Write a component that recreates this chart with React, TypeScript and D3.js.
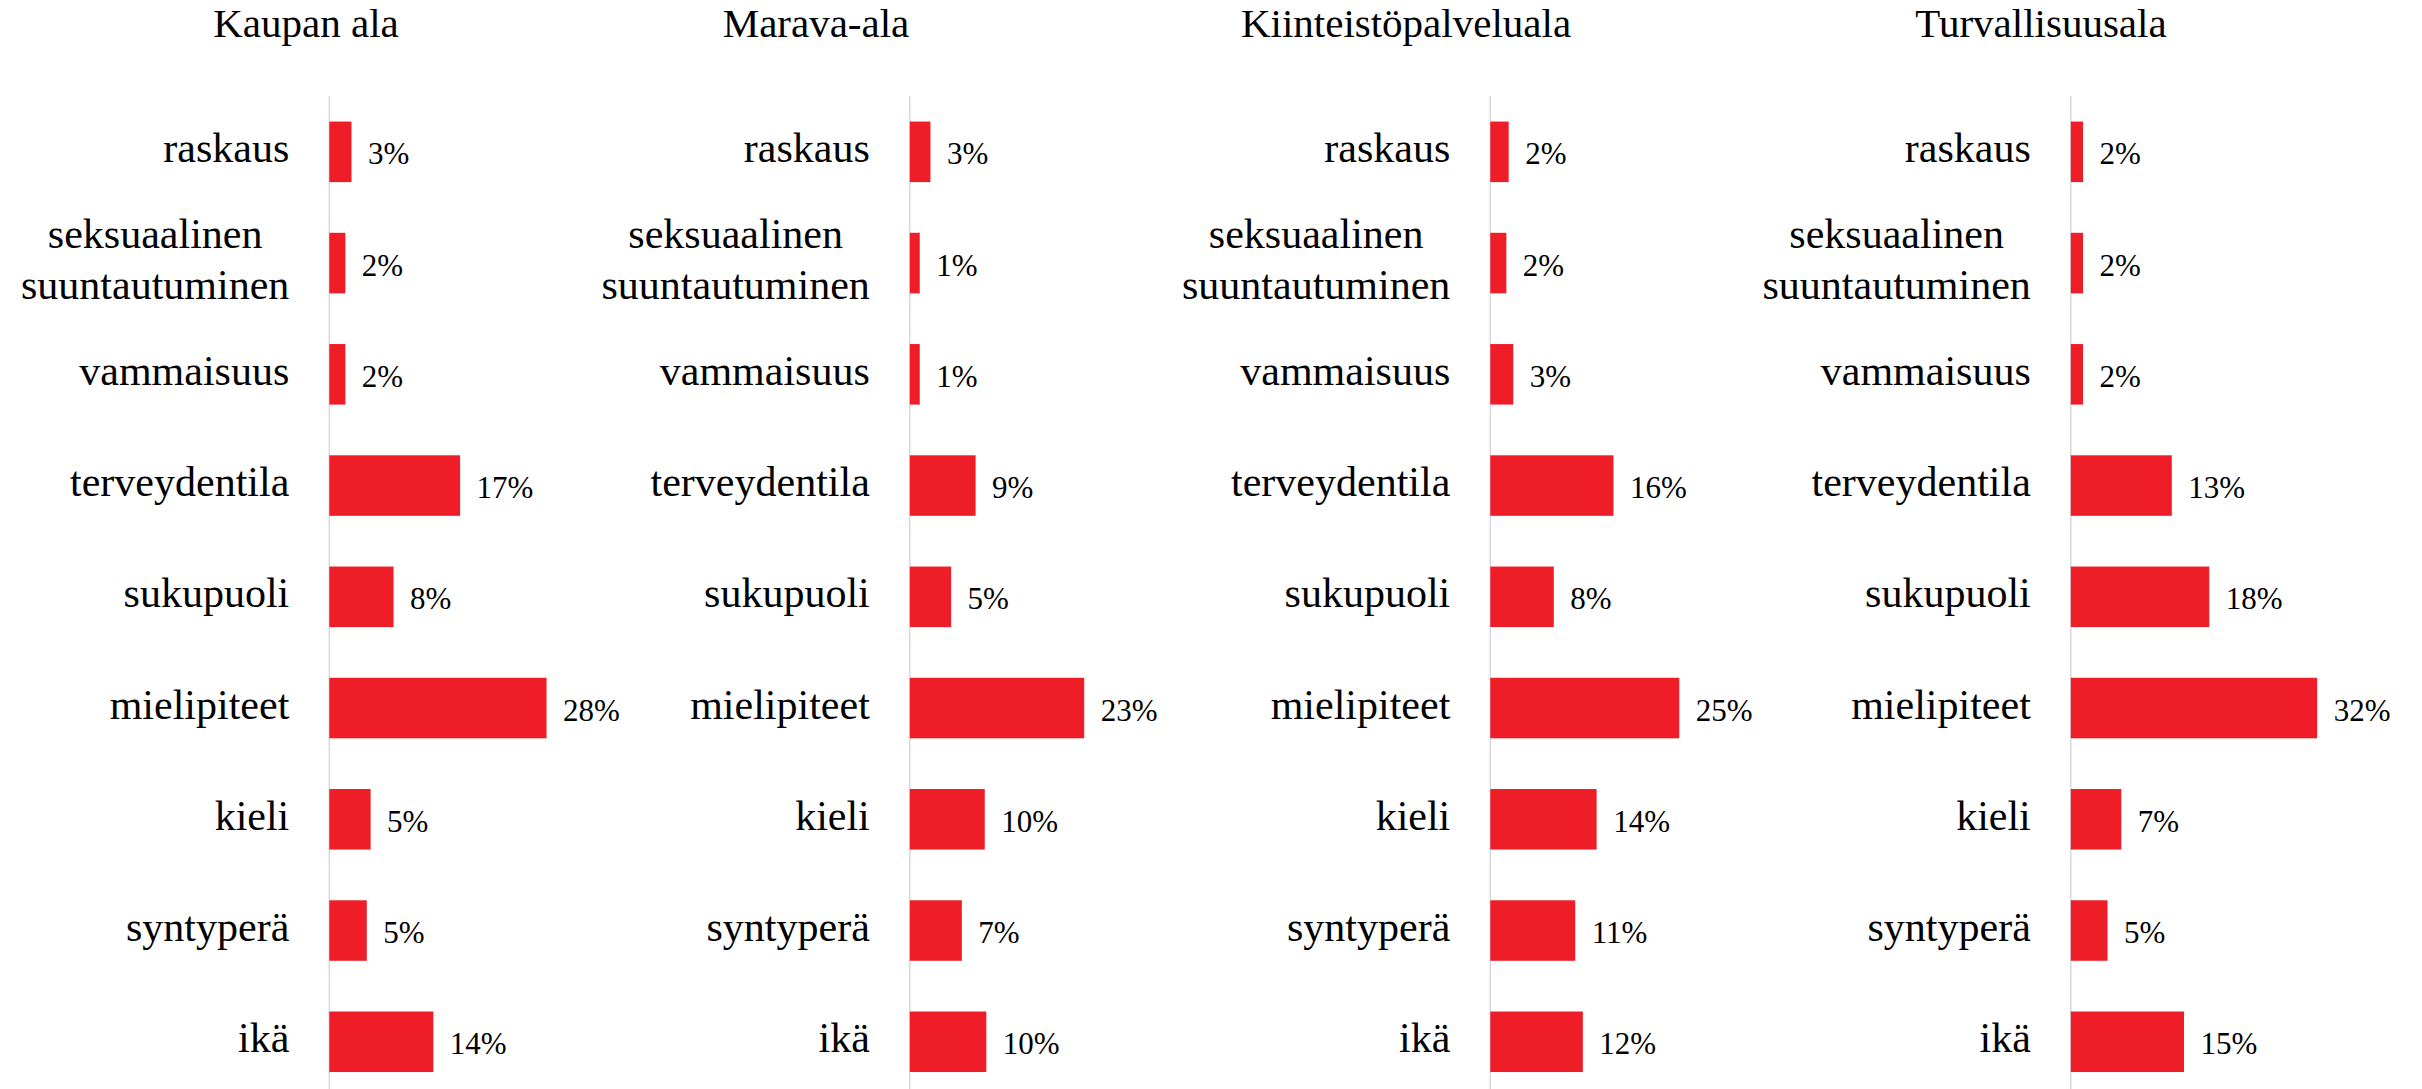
import React from 'react';
import * as d3 from 'd3';

const CATEGORIES = [
    ['raskaus'],
    ['seksuaalinen', 'suuntautuminen'],
    ['vammaisuus'],
    ['terveydentila'],
    ['sukupuoli'],
    ['mielipiteet'],
    ['kieli'],
    ['syntyperä'],
    ['ikä'],
];

const TITLES = ['Kaupan ala', 'Marava-ala', 'Kiinteistöpalveluala', 'Turvallisuusala'];

// shares (labels are rounded)
const KAUPAN = [0.029, 0.021, 0.021, 0.171, 0.084, 0.284, 0.054, 0.049, 0.136];
const MARAVA = [0.027, 0.013, 0.013, 0.086, 0.054, 0.228, 0.098, 0.068, 0.1];
const KIINTEISTO = [0.024, 0.021, 0.03, 0.161, 0.083, 0.247, 0.139, 0.111, 0.121];
const TURVA = [0.016, 0.016, 0.016, 0.132, 0.181, 0.322, 0.066, 0.048, 0.148];

const SERIES = [KAUPAN, MARAVA, KIINTEISTO, TURVA];

const WIDTH = 2422;
const HEIGHT = 1089;
const FONT = "'Liberation Serif', 'Times New Roman', serif";
const RED = '#ee1d27';
const CAT_SIZE = 42;

// each chart was its own object, titles don't sit at the same offset
const AXIS_X = [329.3, 909.8, 1490.3, 2070.8];
const TITLE_X = [306, 816, 1406, 2041];

const fmt = d3.format('.0%');

let ctx = null;
function textWidth(s, size) {
    if (!ctx) ctx = document.createElement('canvas').getContext('2d');
    ctx.font = `${size}px ${FONT}`;
    return ctx.measureText(s).width;
}

function Panel({ values, title, axisX, titleX }) {
    const y = d3.scaleBand(d3.range(CATEGORIES.length), [96.2, 1097.4])
        .paddingInner(0.456)
        .paddingOuter(0.228);
    const x = d3.scaleLinear([0, 0.35], [axisX, axisX + 0.35 * 765]);
    const labelRight = axisX - 40;

    return (
        <g>
            <text x={titleX} y={37} textAnchor="middle" fontSize={41} fill="#000">
                {title}
            </text>
            <line x1={axisX} x2={axisX} y1={96} y2={HEIGHT} stroke="#d9d9d9" strokeWidth={1.5} />
            {values.map((v, i) => {
                const cy = y(i) + y.bandwidth() / 2;
                const lines = CATEGORIES[i];
                const maxW = d3.max(lines, (l) => textWidth(l, CAT_SIZE));
                return (
                    <g key={i}>
                        <rect
                            x={x(0)}
                            y={y(i)}
                            width={x(v) - x(0)}
                            height={y.bandwidth()}
                            fill={RED}
                        />
                        <text x={x(v) + 16.5} y={cy + 12.5} fontSize={31} fill="#000">
                            {fmt(v)}
                        </text>
                        {lines.length === 1 ? (
                            <text x={labelRight} y={cy + 10.5} textAnchor="end" fontSize={CAT_SIZE} fill="#000">
                                {lines[0]}
                            </text>
                        ) : (
                            lines.map((l, j) => (
                                <text
                                    key={j}
                                    x={labelRight - maxW / 2}
                                    y={cy + 10.5 + (j - (lines.length - 1) / 2) * 51}
                                    textAnchor="middle"
                                    fontSize={CAT_SIZE}
                                    fill="#000"
                                >
                                    {l}
                                </text>
                            ))
                        )}
                    </g>
                );
            })}
        </g>
    );
}

export default function App() {
    return (
        <svg
            width={WIDTH}
            height={HEIGHT}
            style={{ position: 'absolute', left: 0, top: 0, background: '#fff' }}
            fontFamily={FONT}
        >
            {SERIES.map((values, i) => (
                <Panel
                    key={i}
                    values={values}
                    title={TITLES[i]}
                    axisX={AXIS_X[i]}
                    titleX={TITLE_X[i]}
                />
            ))}
        </svg>
    );
}
